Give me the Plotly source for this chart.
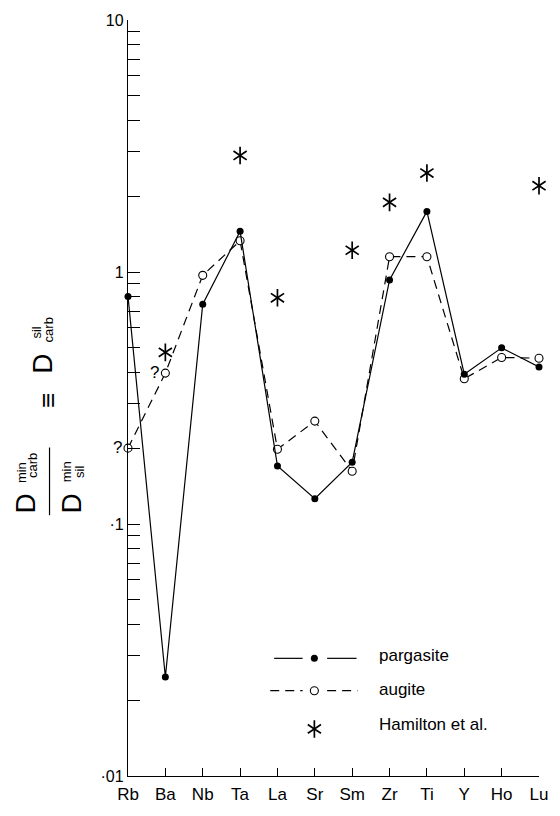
import math
import plotly.graph_objects as go

# ---- data ----
categories = ["Rb", "Ba", "Nb", "Ta", "La", "Sr", "Sm", "Zr", "Ti", "Y", "Ho", "Lu"]
pargasite = [0.80, 0.0247, 0.745, 1.45, 0.170, 0.126, 0.176, 0.93, 1.74, 0.393, 0.50, 0.42]
augite = [0.20, 0.397, 0.97, 1.33, 0.198, 0.256, 0.162, 1.15, 1.15, 0.377, 0.458, 0.455]
hamilton = [None, 0.48, None, 2.90, 0.79, None, 1.22, 1.89, 2.47, None, None, 2.20]
ytick_vals = [0.01, 0.1, 1, 10]
ytick_text = ["·01", "·1", "1", "10"]

W, H = 560, 816
ML, MR, MT, MB = 128, 13, 17, 28
PW, PH = W - ML - MR, H - MT - MB
FONT = "Liberation Sans, Arial, Helvetica, sans-serif"


def px(x):
    return (x - ML) / PW


def py(y):
    return (H - MB - y) / PH


xs = list(range(len(categories)))

# tick positions: decades labelled, 2..9 unlabelled
tick_vals = []
tick_text = []
for e in [-2, -1, 0]:
    for m in range(1, 10):
        v = m * 10 ** e
        tick_vals.append(v)
        tick_text.append(ytick_text[ytick_vals.index(v)] if v in ytick_vals else "")
tick_vals.append(10)
tick_text.append("10")

fig = go.Figure()

fig.add_trace(go.Scatter(
    x=xs, y=augite, mode="lines+markers",
    line=dict(color="black", width=1.2, dash="9px,6px"),
    marker=dict(symbol="circle", size=8, color="white", line=dict(color="black", width=1.1)),
    cliponaxis=False, showlegend=False, name="augite"))

fig.add_trace(go.Scatter(
    x=xs, y=pargasite, mode="lines+markers",
    line=dict(color="black", width=1.2),
    marker=dict(symbol="circle", size=7, color="black"),
    cliponaxis=False, showlegend=False, name="pargasite"))

# six-armed asterisk built from two Y symbols
for sym in ["y-up-open", "y-down-open"]:
    fig.add_trace(go.Scatter(
        x=xs, y=hamilton, mode="markers",
        marker=dict(symbol=sym, size=11, color="black", line=dict(color="black", width=1.7)),
        cliponaxis=False, showlegend=False, name="Hamilton et al."))

# legend markers on an overlay axis spanning the paper
leg_x = px(318)
fig.add_trace(go.Scatter(
    x=[leg_x], y=[py(668)], xaxis="x2", yaxis="y2", mode="markers",
    marker=dict(symbol="circle", size=7, color="black"), showlegend=False, hoverinfo="skip"))
fig.add_trace(go.Scatter(
    x=[leg_x], y=[py(701)], xaxis="x2", yaxis="y2", mode="markers",
    marker=dict(symbol="circle", size=8, color="white", line=dict(color="black", width=1.1)),
    showlegend=False, hoverinfo="skip"))
for sym in ["y-up-open", "y-down-open"]:
    fig.add_trace(go.Scatter(
        x=[leg_x], y=[py(740)], xaxis="x2", yaxis="y2", mode="markers",
        marker=dict(symbol=sym, size=11, color="black", line=dict(color="black", width=1.7)),
        showlegend=False, hoverinfo="skip"))

shapes = []
for (x0, x1, yy, dash) in [(277, 306, 668, "solid"), (331, 361, 668, "solid"),
                           (273, 306, 701, "9px,6px"), (331, 362, 701, "9px,6px")]:
    shapes.append(dict(type="line", xref="paper", yref="paper",
                       x0=px(x0), x1=px(x1), y0=py(yy), y1=py(yy),
                       line=dict(color="black", width=1.2, dash=dash)))
# fraction bar of the y-axis label
shapes.append(dict(type="line", xref="paper", yref="paper",
                   x0=px(48), x1=px(48), y0=py(453), y1=py(522),
                   line=dict(color="black", width=1.2)))

annotations = []
for txt, yy in [("pargasite", 665), ("augite", 700), ("Hamilton et al.", 735)]:
    annotations.append(dict(text=txt, xref="paper", yref="paper", x=px(382), y=py(yy),
                            xanchor="left", yanchor="middle", showarrow=False,
                            font=dict(family=FONT, size=17, color="black")))

# question marks beside the uncertain augite points
for idx in [0, 1]:
    annotations.append(dict(text="?", xref="x", yref="y", x=xs[idx], y=math.log10(augite[idx]),
                            xshift=-11, yshift=1, showarrow=False,
                            font=dict(family=FONT, size=17, color="black")))


def rot(text, x, y, size):
    annotations.append(dict(text=text, xref="paper", yref="paper", x=px(x), y=py(y),
                            xanchor="center", yanchor="middle", textangle=-90, showarrow=False,
                            font=dict(family=FONT, size=size, color="black")))


rot("D", 40, 368, 28)
rot("sil", 35, 336, 13)
rot("carb", 47, 333, 13)
rot("≡", 47, 405, 26)
rot("D", 23, 510, 28)
rot("min", 19, 479, 13)
rot("carb", 30, 471, 13)
rot("D", 70, 510, 28)
rot("min", 65, 478, 13)
rot("sil", 78, 478, 13)

fig.update_layout(
    width=W, height=H,
    margin=dict(l=ML, r=MR, t=MT, b=MB, pad=0),
    paper_bgcolor="white", plot_bgcolor="white",
    font=dict(family=FONT, color="black"),
    shapes=shapes, annotations=annotations,
    xaxis=dict(range=[0, len(categories) - 1], tickvals=xs, ticktext=categories,
               showline=True, linecolor="black", linewidth=1.3, mirror=False,
               ticks="inside", ticklen=8, tickwidth=1.2, tickcolor="black",
               ticklabelstandoff=2,
               showgrid=False, zeroline=False, tickfont=dict(family=FONT, size=17, color="black")),
    yaxis=dict(type="log", range=[-2, 1], tickvals=tick_vals, ticktext=tick_text,
               showline=True, linecolor="black", linewidth=1.3,
               ticks="inside", ticklen=12, tickwidth=1.2, tickcolor="black",
               showgrid=False, zeroline=False, tickfont=dict(family=FONT, size=16, color="black")),
    xaxis2=dict(domain=[0, 1], range=[0, 1], overlaying="x", visible=False, anchor="y2"),
    yaxis2=dict(domain=[0, 1], range=[0, 1], overlaying="y", visible=False, anchor="x2"),
)

fig.write_html("out.html", config={"displayModeBar": False},
               post_script="document.body.style.margin='0';")
